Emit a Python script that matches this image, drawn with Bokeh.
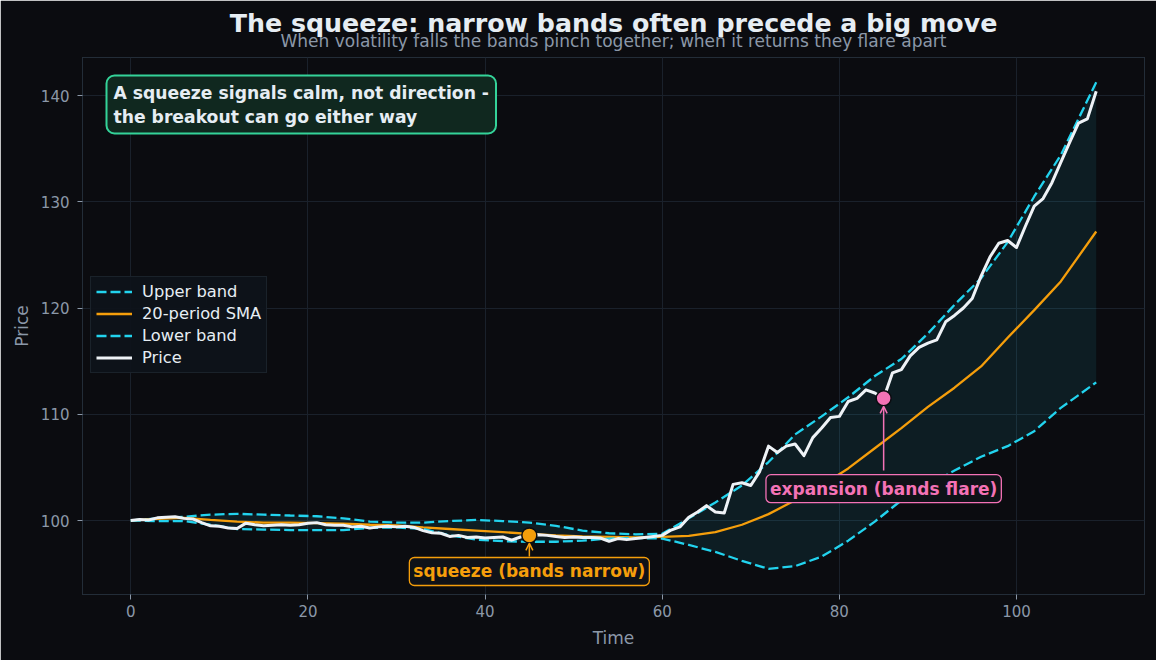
from bokeh.plotting import figure
from bokeh.models import (Range1d, Label, Arrow, OpenHead, Legend, LegendItem,
                          ColumnDataSource, FixedTicker, Title)
from bokeh.embed import file_html
from bokeh.resources import INLINE

# ---------------- data ----------------
t = list(range(110))
price = [100.0, 100.1, 100.05, 100.25, 100.3, 100.35, 100.2, 100.15, 99.8, 99.5,
         99.45, 99.3, 99.25, 99.75, 99.6, 99.5, 99.55, 99.6, 99.55, 99.6,
         99.75, 99.8, 99.6, 99.55, 99.55, 99.4, 99.45, 99.3, 99.4, 99.45,
         99.4, 99.45, 99.35, 99.05, 98.85, 98.8, 98.5, 98.6, 98.4, 98.45,
         98.35, 98.4, 98.45, 98.15, 98.45, 98.6, 98.65, 98.6, 98.5, 98.4,
         98.45, 98.4, 98.4, 98.35, 98.05, 98.3, 98.2, 98.3, 98.4, 98.5,
         98.6, 99.1, 99.4, 100.3, 100.8, 101.4, 100.8, 100.7, 103.4, 103.55,
         103.3, 104.6, 107.0, 106.4, 107.0, 107.2, 106.1, 107.8, 108.7, 109.7,
         109.8, 111.2, 111.5, 112.3, 112.0, 111.5, 113.9, 114.2, 115.5, 116.3,
         116.7, 117.0, 118.7, 119.3, 120.0, 120.9, 123.0, 124.8, 126.1, 126.35,
         125.7, 127.7, 129.6, 130.3, 131.8, 133.7, 135.6, 137.4, 137.8, 140.4]

band_t = [0, 3, 6, 9, 12, 15, 18, 21, 24, 27, 30, 33, 36, 39, 42, 45, 48, 51, 54,
          57, 60, 63, 66, 69, 72, 75, 78, 81, 84, 87, 90, 93, 96, 99, 102, 105, 109]
upper = [100.0, 100.2, 100.35, 100.55, 100.63, 100.55, 100.47, 100.4, 100.2, 99.9,
         99.8, 99.8, 99.95, 100.05, 99.95, 99.8, 99.5, 99.05, 98.8, 98.7,
         98.75, 100.2, 101.7, 103.3, 105.5, 108.1, 109.8, 111.6, 113.6, 115.2,
         117.6, 120.3, 122.8, 126.2, 130.5, 134.4, 141.25]
sma = [100.0, 100.15, 100.25, 100.05, 99.9, 99.8, 99.8, 99.75, 99.7, 99.6,
       99.55, 99.35, 99.2, 99.05, 98.9, 98.75, 98.6, 98.5, 98.45, 98.4,
       98.45, 98.55, 98.9, 99.6, 100.6, 101.9, 103.3, 104.9, 106.8, 108.7,
       110.7, 112.5, 114.5, 117.2, 119.8, 122.5, 127.2]
lower = [100.0, 99.95, 99.95, 99.6, 99.2, 99.15, 99.1, 99.1, 99.1, 99.3,
         99.35, 99.2, 98.6, 98.2, 98.05, 98.0, 98.0, 98.1, 98.3, 98.35,
         98.3, 97.7, 97.05, 96.2, 95.45, 95.7, 96.6, 98.1, 99.9, 101.9,
         103.3, 104.7, 106.0, 107.0, 108.4, 110.6, 113.0]

x_ticks = [0, 20, 40, 60, 80, 100]
y_ticks = [100, 110, 120, 130, 140]

squeeze_i = 45
expand_i = 85
squeeze_label_y = 95.2
expand_label_y = 103.0

# ---------------- style ----------------
BG = "#0b0c10"
GRID = "#1a212b"
MUTED = "#8b98a8"
TXT = "#e6edf3"
CYAN = "#22d3ee"
ORANGE = "#f59e0b"
PINK = "#f472b6"
WHITE = "#eef2f6"
FONT = "DejaVu Sans"

p = figure(width=1156, height=660, output_backend="svg", toolbar_location=None,
           title=None,
           x_range=Range1d(-5.45, 114.45), y_range=Range1d(93.035, 143.58),
           min_border_left=82, min_border_right=12, min_border_top=57,
           min_border_bottom=66)
p.background_fill_color = BG
p.border_fill_color = BG
p.outline_line_color = "#232d38"
p.outline_line_width = 1

p.xgrid.grid_line_color = GRID
p.ygrid.grid_line_color = GRID
p.xaxis.ticker = FixedTicker(ticks=x_ticks)
p.yaxis.ticker = FixedTicker(ticks=y_ticks)
for ax in (p.xaxis[0], p.yaxis[0]):
    ax.axis_line_color = None
    ax.major_tick_line_color = MUTED
    ax.major_tick_out = 5
    ax.major_tick_in = 0
    ax.minor_tick_line_color = None
    ax.major_label_text_color = MUTED
    ax.major_label_text_font = FONT
    ax.major_label_text_font_size = "15px"
    ax.axis_label_text_color = MUTED
    ax.axis_label_text_font = FONT
    ax.axis_label_text_font_size = "17px"
    ax.axis_label_text_font_style = "normal"
p.xaxis.axis_label = "Time"
p.yaxis.axis_label = "Price"
p.xaxis.major_label_standoff = 5
p.yaxis.major_label_standoff = 8
p.xaxis.axis_label_standoff = 8
p.yaxis.axis_label_standoff = 6

bsrc = ColumnDataSource(dict(t=band_t, upper=upper, lower=lower, sma=sma))
psrc = ColumnDataSource(dict(t=t, price=price))

p.varea(x="t", y1="lower", y2="upper", source=bsrc, fill_color=CYAN, fill_alpha=0.09)
r_up = p.line("t", "upper", source=bsrc, line_color=CYAN, line_width=2.3,
              line_dash="10 4")
r_sma = p.line("t", "sma", source=bsrc, line_color=ORANGE, line_width=2.3)
r_lo = p.line("t", "lower", source=bsrc, line_color=CYAN, line_width=2.3,
              line_dash="10 4")
r_pr = p.line("t", "price", source=psrc, line_color=WHITE, line_width=3,
              line_join="round")

# annotation points
p.scatter([t[squeeze_i]], [price[squeeze_i]], size=15, fill_color=ORANGE,
          line_color=BG, line_width=1.5)
p.scatter([t[expand_i]], [price[expand_i]], size=15, fill_color=PINK,
          line_color=BG, line_width=1.5)

p.add_layout(Arrow(end=OpenHead(size=7, line_color=ORANGE, line_width=1.5),
                   x_start=t[squeeze_i], y_start=96.6,
                   x_end=t[squeeze_i], y_end=price[squeeze_i] - 0.75,
                   line_color=ORANGE, line_width=1.5))
p.add_layout(Arrow(end=OpenHead(size=7, line_color=PINK, line_width=1.5),
                   x_start=t[expand_i], y_start=104.7,
                   x_end=t[expand_i], y_end=price[expand_i] - 0.75,
                   line_color=PINK, line_width=1.5))

p.add_layout(Label(x=t[squeeze_i], y=squeeze_label_y, text="squeeze (bands narrow)",
                   text_align="center", text_baseline="middle",
                   text_color=ORANGE, text_font=FONT, text_font_size="17px",
                   text_font_style="bold", background_fill_color="#0f1218",
                   border_line_color=ORANGE, border_line_width=1.3,
                   padding=4, border_radius=5))
p.add_layout(Label(x=t[expand_i], y=expand_label_y, text="expansion (bands flare)",
                   text_align="center", text_baseline="middle",
                   text_color=PINK, text_font=FONT, text_font_size="17px",
                   text_font_style="bold", background_fill_color="#0f1218",
                   border_line_color=PINK, border_line_width=1.3,
                   padding=4, border_radius=5))

p.add_layout(Label(x=24, y=519, x_units="screen", y_units="screen",
                   text="A squeeze signals calm, not direction -\nthe breakout can go either way",
                   text_align="left", text_baseline="top",
                   text_color=TXT, text_font=FONT, text_font_size="17.2px",
                   text_font_style="bold", background_fill_color="#10281f",
                   border_line_color="#34d399", border_line_width=2,
                   padding=7, border_radius=8))

# titles (subtitle first so it sits nearest the plot)
sub = Title(text="When volatility falls the bands pinch together; when it returns they flare apart",
            align="center", text_color=MUTED, text_font=FONT,
            text_font_size="17px", text_font_style="normal", standoff=14)
p.add_layout(sub, "above")
try:
    main = Title(text="The squeeze: narrow bands often precede a big move",
                 align="center", text_color=TXT, text_font=FONT,
                 text_font_size="25.3px", text_font_style="bold", standoff=-33)
except Exception:
    main = Title(text="The squeeze: narrow bands often precede a big move",
                 align="center", text_color=TXT, text_font=FONT,
                 text_font_size="25.3px", text_font_style="bold", standoff=0)
p.add_layout(main, "above")

legend = Legend(items=[LegendItem(label="Upper band", renderers=[r_up]),
                       LegendItem(label="20-period SMA", renderers=[r_sma]),
                       LegendItem(label="Lower band", renderers=[r_lo]),
                       LegendItem(label="Price", renderers=[r_pr])],
                location=(8, 221))
legend.background_fill_color = "#0e131a"
legend.background_fill_alpha = 0.95
legend.border_line_color = "#27313c"
legend.label_text_color = TXT
legend.label_text_font = FONT
legend.label_text_font_size = "16.3px"
legend.glyph_width = 36
legend.glyph_height = 19
legend.label_height = 19
legend.spacing = 3
legend.padding = 5
legend.margin = 0
legend.label_standoff = 10
p.add_layout(legend)

open("out.html", "w").write(file_html(p, INLINE))
